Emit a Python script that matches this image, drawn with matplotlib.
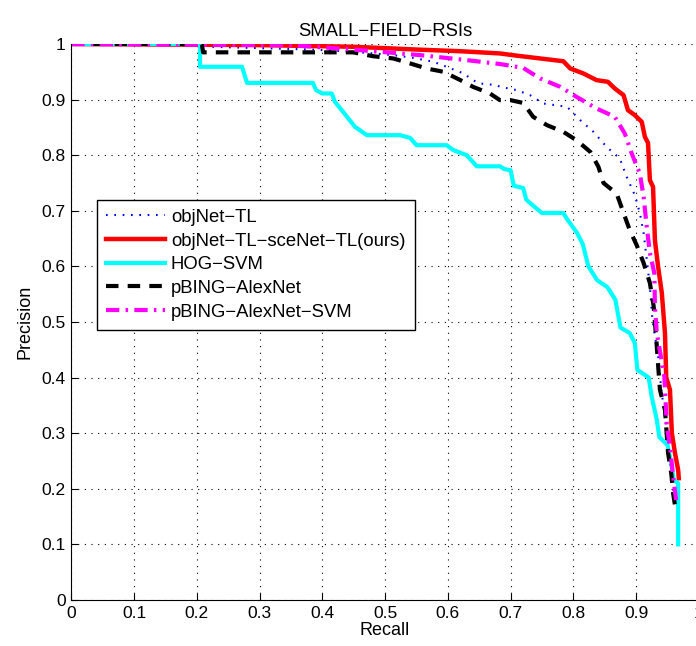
import matplotlib.pyplot as plt
import numpy as np

plt.rcParams['font.family'] = ['Liberation Sans', 'DejaVu Sans']

# precision / recall curves
recall_objnet = [0, 0.21, 0.22, 0.385, 0.449, 0.513, 0.545, 0.577, 0.598, 0.625, 0.64, 0.651,
                 0.678, 0.683, 0.71, 0.731, 0.752, 0.79, 0.811, 0.832, 0.853, 0.874, 0.885,
                 0.898, 0.906, 0.912, 0.917, 0.922, 0.926, 0.935, 0.94, 0.947, 0.952, 0.957, 0.96]
prec_objnet = [1.0, 1.0, 0.995, 0.99, 0.986, 0.98, 0.975, 0.968, 0.959, 0.947, 0.935, 0.929,
               0.926, 0.923, 0.917, 0.908, 0.893, 0.887, 0.863, 0.842, 0.815, 0.794, 0.761,
               0.728, 0.696, 0.66, 0.612, 0.564, 0.504, 0.44, 0.38, 0.32, 0.26, 0.22, 0.19]

recall_ours = [0, 0.3, 0.45, 0.55, 0.62, 0.683, 0.71, 0.784, 0.795, 0.816, 0.837, 0.855, 0.866,
               0.88, 0.887, 0.898, 0.909, 0.914, 0.919, 0.922, 0.927, 0.93, 0.935, 0.941, 0.946,
               0.948, 0.954, 0.957, 0.962, 0.967, 0.968]
prec_ours = [1.0, 0.998, 0.995, 0.99, 0.987, 0.983, 0.979, 0.969, 0.956, 0.947, 0.935, 0.932, 0.92,
             0.908, 0.881, 0.872, 0.86, 0.833, 0.822, 0.755, 0.743, 0.647, 0.60, 0.552, 0.48,
             0.40, 0.378, 0.30, 0.264, 0.234, 0.219]

recall_hog = [0, 0.205, 0.205, 0.272, 0.28, 0.385, 0.39, 0.40, 0.415, 0.42, 0.433, 0.452, 0.471,
              0.524, 0.54, 0.55, 0.598, 0.609, 0.63, 0.646, 0.683, 0.69, 0.70, 0.705, 0.72, 0.725,
              0.735, 0.75, 0.784, 0.79, 0.806, 0.815, 0.824, 0.838, 0.854, 0.867, 0.875, 0.89,
              0.898, 0.902, 0.92, 0.925, 0.933, 0.937, 0.95, 0.956, 0.96, 0.967, 0.967]
prec_hog = [1.0, 1.0, 0.959, 0.959, 0.93, 0.93, 0.917, 0.911, 0.911, 0.896, 0.878, 0.851, 0.836,
            0.836, 0.831, 0.818, 0.818, 0.809, 0.80, 0.78, 0.78, 0.775, 0.773, 0.745, 0.741, 0.72,
            0.71, 0.696, 0.696, 0.685, 0.66, 0.64, 0.60, 0.575, 0.563, 0.54, 0.49, 0.48,
            0.462, 0.414, 0.40, 0.365, 0.324, 0.293, 0.279, 0.246, 0.216, 0.21, 0.10]

recall_pbing = [0, 0.208, 0.21, 0.449, 0.481, 0.513, 0.54, 0.566, 0.593, 0.62, 0.64, 0.667, 0.683,
                0.70, 0.72, 0.736, 0.758, 0.784, 0.805, 0.827, 0.84, 0.848, 0.869, 0.88, 0.89,
                0.901, 0.912, 0.922, 0.928, 0.933, 0.936, 0.938, 0.946, 0.951, 0.956, 0.959, 0.962]
prec_pbing = [1.0, 1.0, 0.985, 0.985, 0.978, 0.974, 0.965, 0.956, 0.95, 0.935, 0.923, 0.911, 0.899,
              0.899, 0.894, 0.869, 0.854, 0.842, 0.827, 0.806, 0.779, 0.75, 0.731, 0.696, 0.665,
              0.638, 0.606, 0.57, 0.528, 0.456, 0.408, 0.378, 0.342, 0.264, 0.228, 0.192, 0.17]

recall_svm = [0, 0.35, 0.449, 0.556, 0.63, 0.683, 0.72, 0.747, 0.779, 0.805, 0.837, 0.866, 0.882,
              0.893, 0.906, 0.912, 0.917, 0.922, 0.929, 0.93, 0.933, 0.945, 0.949, 0.954, 0.959, 0.964]
prec_svm = [1.0, 0.998, 0.99, 0.98, 0.971, 0.964, 0.957, 0.938, 0.923, 0.905, 0.884, 0.869, 0.839,
            0.803, 0.767, 0.725, 0.671, 0.624, 0.588, 0.528, 0.48, 0.402, 0.312, 0.276, 0.222, 0.177]

labels = ['objNet\u2212TL', 'objNet\u2212TL\u2212sceNet\u2212TL(ours)', 'HOG\u2212SVM',
          'pBING\u2212AlexNet', 'pBING\u2212AlexNet\u2212SVM']

fig = plt.figure(figsize=(6.96, 6.46), dpi=100)
ax = fig.add_axes([0.1025, 0.0712, 0.9016, 0.8607])

ax.plot(recall_objnet, prec_objnet, color='#0000ff', linestyle=(0, (0.8, 3.2)), lw=1.5, label=labels[0])
ax.plot(recall_ours, prec_ours, color='#ff0000', lw=3.2, label=labels[1])
ax.plot(recall_hog, prec_hog, color='#00ffff', lw=3.0, label=labels[2])
ax.plot(recall_pbing, prec_pbing, color='black', linestyle=(0, (3, 2.2)), lw=3.0, label=labels[3])
ax.plot(recall_svm, prec_svm, color='#ff00ff', linestyle=(0, (3.2, 1.5, 0.6, 1.5)), lw=3.0, label=labels[4])

ax.set_xlim(0, 1)
ax.set_ylim(0, 1)
ticks = np.arange(0, 1.01, 0.1)
tick_text = ['0'] + ['%.1f' % t for t in ticks[1:-1]] + ['1']
ax.set_xticks(ticks)
ax.set_xticklabels(tick_text)
ax.set_yticks(ticks)
ax.set_yticklabels(tick_text)
ax.tick_params(direction='in', length=5, labelsize=12.5, pad=4)
ax.grid(True, color='black', linestyle=(0, (1, 5)), lw=0.8)
ax.spines['top'].set_visible(False)
ax.spines['right'].set_visible(False)

ax.set_xlabel('Recall', fontsize=13, labelpad=1)
ax.set_ylabel('Precision', fontsize=13, labelpad=6)
ax.set_title('SMALL\u2212FIELD\u2212RSIs', fontsize=13.3, pad=6)

leg = ax.legend(loc='upper left', bbox_to_anchor=(0.041, 0.72), fontsize=13.3, fancybox=False,
                edgecolor='black', framealpha=1, handlelength=3.2, handletextpad=0.3,
                labelspacing=0.36, borderpad=0.5, borderaxespad=0)
leg.get_frame().set_linewidth(1.0)

fig.savefig('out.png', dpi=100)
